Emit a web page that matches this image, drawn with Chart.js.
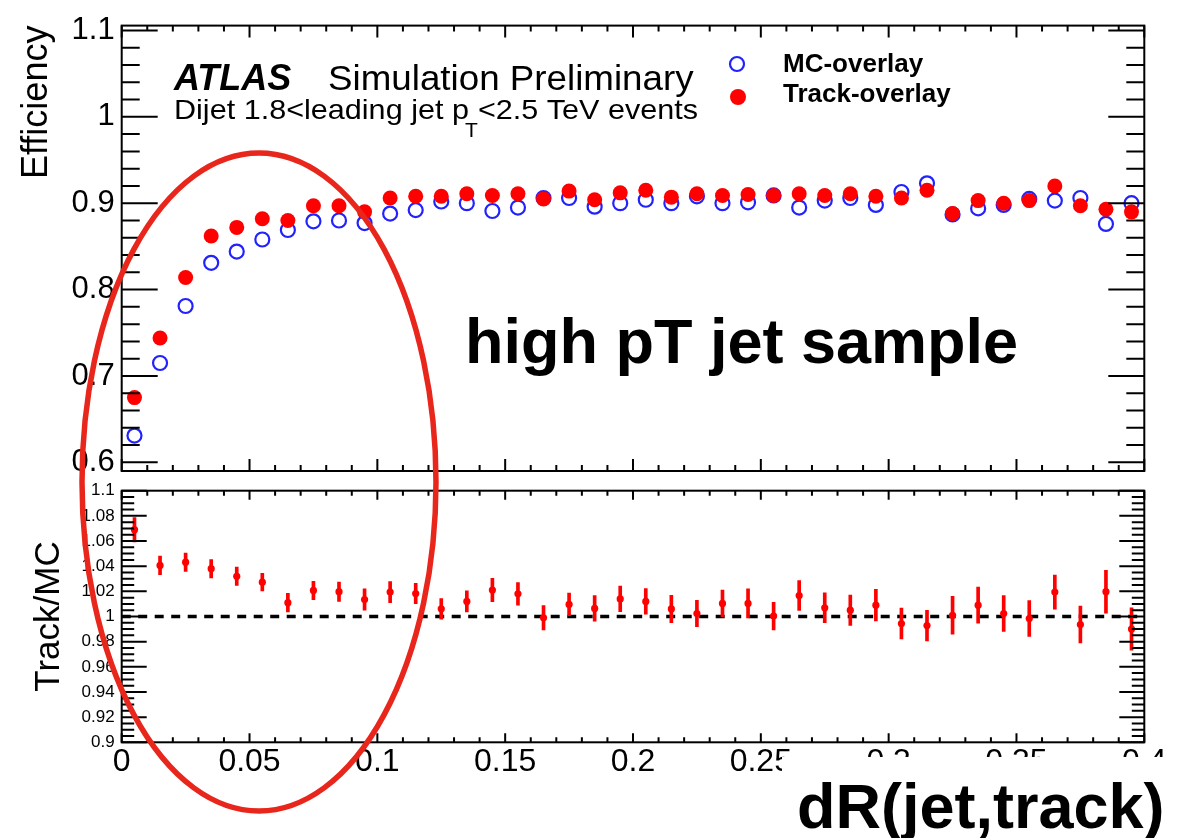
<!DOCTYPE html>
<html>
<head>
<meta charset="utf-8">
<title>Track reconstruction efficiency vs dR(jet,track)</title>
<script src="https://cdn.jsdelivr.net/npm/chart.js@4.4.1/dist/chart.umd.min.js"></script>
<style>
  body { margin: 0; background: #fff; }
  #wrap { position: relative; width: 1198px; height: 838px; }
  #wrap canvas { position: absolute; left: 0; top: 0; }
</style>
</head>
<body>
<div id="wrap">
  <canvas id="effChart" width="1198" height="838"></canvas>
  <canvas id="ratioChart" width="1198" height="838"></canvas>
</div>
<script>
// ==================== DATA ====================
// bin centres of dR(jet,track), bins 0.01 wide
const dRBins = [0.005, 0.015, 0.025, 0.035, 0.045, 0.055, 0.065, 0.075, 0.085, 0.095,
    0.105, 0.115, 0.125, 0.135, 0.145, 0.155, 0.165, 0.175, 0.185, 0.195,
    0.205, 0.215, 0.225, 0.235, 0.245, 0.255, 0.265, 0.275, 0.285, 0.295,
    0.305, 0.315, 0.325, 0.335, 0.345, 0.355, 0.365, 0.375, 0.385, 0.395];

// efficiency, MC-overlay (open blue circles)
const effMC = [0.631, 0.715, 0.781, 0.831, 0.844, 0.858, 0.869, 0.879, 0.880, 0.877,
    0.888, 0.892, 0.902, 0.900, 0.891, 0.895, 0.906, 0.906, 0.896, 0.900,
    0.904, 0.900, 0.908, 0.900, 0.901, 0.909, 0.895, 0.903, 0.906, 0.898,
    0.913, 0.923, 0.887, 0.894, 0.898, 0.905, 0.903, 0.906, 0.876, 0.900];

// efficiency, Track-overlay (filled red circles)
const effTrack = [0.675, 0.744, 0.814, 0.862, 0.872, 0.882, 0.880, 0.897, 0.897, 0.890,
    0.906, 0.908, 0.908, 0.911, 0.909, 0.911, 0.905, 0.914, 0.904, 0.912,
    0.915, 0.907, 0.911, 0.909, 0.910, 0.909, 0.911, 0.909, 0.911, 0.908,
    0.906, 0.915, 0.888, 0.903, 0.900, 0.903, 0.920, 0.897, 0.893, 0.890];

// ratio Track/MC and its error
const ratioTrackMC = [1.069, 1.0406, 1.0432, 1.038, 1.032, 1.0273, 1.011, 1.0207, 1.0197, 1.0135,
    1.0194, 1.0183, 1.0061, 1.012, 1.021, 1.018, 0.999, 1.0096, 1.0064, 1.014,
    1.012, 1.006, 1.0024, 1.0104, 1.0104, 1.0003, 1.0167, 1.0069, 1.005, 1.009,
    0.9944, 0.9928, 1.001, 1.009, 1.0024, 0.9984, 1.0194, 0.9936, 1.0197, 0.990];
const ratioErr = [0.0097, 0.0074, 0.0073, 0.0073, 0.0072, 0.0070, 0.0074, 0.0073, 0.0077, 0.0084,
    0.0084, 0.0081, 0.0082, 0.0084, 0.0093, 0.0090, 0.0096, 0.0090, 0.0102, 0.0102,
    0.0102, 0.0109, 0.0104, 0.0106, 0.0115, 0.0110, 0.0119, 0.0119, 0.0121, 0.0126,
    0.0123, 0.0122, 0.0150, 0.0143, 0.0143, 0.0142, 0.0135, 0.0146, 0.0170, 0.0168];

// tick labels
const xTickVals = [0, 0.05, 0.1, 0.15, 0.2, 0.25, 0.3, 0.35, 0.4];
const effTickVals = [0.6, 0.7, 0.8, 0.9, 1, 1.1];
const ratioTickVals = [0.9, 0.92, 0.94, 0.96, 0.98, 1, 1.02, 1.04, 1.06, 1.08, 1.1];

const FONT = "'Liberation Sans', Arial, Helvetica, sans-serif";
const BLUE = '#2222ff';
const RED = '#ff0000';

// ==================== PLUGINS ====================
// ROOT-style frame with inward ticks on all four sides
const rootFrame = {
    id: 'rootFrame',
    afterDatasetsDraw(chart, args, opts) {
        const {ctx, chartArea: a, scales: {x, y}} = chart;
        ctx.save();
        ctx.strokeStyle = '#000';
        ctx.lineWidth = 2;
        ctx.beginPath();
        const isMajor = (v, step) => Math.abs(v / step - Math.round(v / step)) < 1e-6;
        for (let v = Math.ceil(x.min / opts.xMinor - 1e-6) * opts.xMinor; v <= x.max + 1e-9; v += opts.xMinor) {
            const px = x.getPixelForValue(v);
            const len = isMajor(v, opts.xMajor) ? opts.xMajLen : opts.xMinLen;
            ctx.moveTo(px, a.bottom); ctx.lineTo(px, a.bottom - len);
            ctx.moveTo(px, a.top); ctx.lineTo(px, a.top + len);
        }
        for (let k = Math.ceil(y.min / opts.yMinor - 1e-6); k * opts.yMinor <= y.max + 1e-9; k++) {
            const v = k * opts.yMinor;
            const py = y.getPixelForValue(v);
            const len = isMajor(v, opts.yMajor) ? opts.yMajLen : opts.yMinLen;
            ctx.moveTo(a.left, py); ctx.lineTo(a.left + len, py);
            ctx.moveTo(a.right, py); ctx.lineTo(a.right - len, py);
        }
        ctx.stroke();
        ctx.strokeRect(a.left, a.top, a.right - a.left, a.bottom - a.top);
        ctx.restore();
    }
};

function stretchText(ctx, text, x, y, font, sx) {
    ctx.save();
    ctx.font = font;
    const w = ctx.measureText(text).width * sx;
    ctx.translate(x, y);
    ctx.scale(sx, 1);
    ctx.fillText(text, 0, 0);
    ctx.restore();
    return w;
}

// ATLAS label + legend of the upper pad
const atlasLabels = {
    id: 'atlasLabels',
    afterDraw(chart) {
        const ctx = chart.ctx;
        ctx.save();
        ctx.fillStyle = '#000';
        ctx.textBaseline = 'alphabetic';
        stretchText(ctx, 'ATLAS', 174, 90, `italic bold 36px ${FONT}`, 1);
        stretchText(ctx, 'Simulation Preliminary', 328, 90, `35px ${FONT}`, 1.05);
        const x0 = 174;
        const w = stretchText(ctx, 'Dijet 1.8<leading jet p', x0, 119, `28px ${FONT}`, 1.092);
        stretchText(ctx, 'T', x0 + w - 4, 137, `20px ${FONT}`, 1.05);
        stretchText(ctx, '<2.5 TeV events', x0 + w + 9, 119, `28px ${FONT}`, 1.092);

        // legend
        ctx.strokeStyle = BLUE;
        ctx.lineWidth = 2.2;
        ctx.beginPath();
        ctx.arc(737, 64, 7, 0, Math.PI * 2);
        ctx.stroke();
        ctx.fillStyle = RED;
        ctx.beginPath();
        ctx.arc(738, 97, 8, 0, Math.PI * 2);
        ctx.fill();
        ctx.fillStyle = '#000';
        stretchText(ctx, 'MC-overlay', 783, 72, `bold 26px ${FONT}`, 1);
        stretchText(ctx, 'Track-overlay', 783, 102, `bold 26px ${FONT}`, 1);
        ctx.restore();
    }
};

// notes added on top of the plot (ellipse, captions)
const slideNotes = {
    id: 'slideNotes',
    afterDraw(chart) {
        const ctx = chart.ctx;
        ctx.save();
        ctx.strokeStyle = '#e8261b';
        ctx.lineWidth = 5.5;
        ctx.beginPath();
        ctx.ellipse(259, 482, 177, 329, 0, 0, Math.PI * 2);
        ctx.stroke();

        ctx.fillStyle = '#000';
        ctx.textBaseline = 'alphabetic';
        ctx.font = `bold 63px ${FONT}`;
        ctx.fillText('high pT jet sample', 465, 363);

        ctx.fillStyle = '#fff';
        ctx.fillRect(782, 757, 416, 81);
        ctx.fillStyle = '#000';
        ctx.fillText('dR(jet,track)', 797, 828);
        ctx.restore();
    }
};

// ==================== CHARTS ====================
const AREA_LEFT = 121.7;
const AREA_RIGHT_PAD = 1198 - 1144.3;

function fmtTick(v) {
    return String(+Number(v).toFixed(2));
}

function xScale(showLabels) {
    return {
        type: 'linear',
        min: 0,
        max: 0.4,
        offset: false,
        display: showLabels,
        grid: { display: false, drawTicks: false },
        border: { display: false },
        afterBuildTicks: (scale) => { scale.ticks = xTickVals.map(v => ({ value: v })); },
        afterFit: (scale) => { if (showLabels) scale.height = 838 - 742.3; },
        ticks: {
            autoSkip: false,
            maxRotation: 0,
            minRotation: 0,
            padding: 1,
            color: '#000',
            font: { family: FONT, size: 32 },
            callback: fmtTick
        }
    };
}

// upper pad: efficiencies
new Chart(document.getElementById('effChart'), {
    type: 'scatter',
    data: {
        datasets: [{
            label: 'Track-overlay',
            data: effTrack.map((v, i) => ({ x: dRBins[i], y: v })),
            pointRadius: 7.5,
            pointBorderWidth: 0,
            pointBackgroundColor: RED,
            order: 0
        }, {
            label: 'MC-overlay',
            data: effMC.map((v, i) => ({ x: dRBins[i], y: v })),
            pointRadius: 7,
            pointBorderWidth: 2.2,
            pointBorderColor: BLUE,
            pointBackgroundColor: 'rgba(0,0,0,0)',
            order: 1
        }]
    },
    options: {
        responsive: false,
        animation: false,
        events: [],
        layout: { padding: { top: 15, right: AREA_RIGHT_PAD, bottom: 838 - 471, left: 0 } },
        plugins: {
            legend: { display: false },
            tooltip: { enabled: false },
            rootFrame: { xMajor: 0.05, xMinor: 0.01, xMajLen: 12, xMinLen: 6,
                         yMajor: 0.1, yMinor: 0.02, yMajLen: 36, yMinLen: 18 }
        },
        scales: {
            x: xScale(false),
            y: {
                type: 'linear',
                min: 0.59,
                max: 1.1056,
                grid: { display: false, drawTicks: false },
                border: { display: false },
                afterBuildTicks: (scale) => { scale.ticks = effTickVals.map(v => ({ value: v })); },
                afterFit: (scale) => { scale.width = AREA_LEFT; },
                ticks: {
                    autoSkip: false,
                    padding: 7,
                    color: '#000',
                    font: { family: FONT, size: 31 },
                    callback: fmtTick
                },
                title: {
                    display: true,
                    text: 'Efficiency',
                    align: 'end',
                    color: '#000',
                    font: { family: FONT, size: 36 },
                    padding: { top: 15, bottom: 0 }
                }
            }
        }
    },
    plugins: [rootFrame, atlasLabels]
});

// lower pad: ratio Track/MC
new Chart(document.getElementById('ratioChart'), {
    type: 'scatter',
    data: {
        datasets: [{
            type: 'scatter',
            label: 'Track/MC',
            data: ratioTrackMC.map((v, i) => ({ x: dRBins[i], y: v })),
            pointRadius: 3.6,
            pointBorderWidth: 0,
            pointBackgroundColor: RED,
            order: 0
        }, {
            type: 'bar',
            label: 'error',
            data: ratioTrackMC.map((v, i) => ({ x: dRBins[i], y: [v - ratioErr[i], v + ratioErr[i]] })),
            backgroundColor: RED,
            borderWidth: 0,
            barThickness: 3,
            grouped: false,
            order: 1
        }, {
            type: 'line',
            label: 'unity',
            data: [{ x: 0, y: 1 }, { x: 0.4, y: 1 }],
            showLine: true,
            borderColor: '#000',
            borderWidth: 3.5,
            borderDash: [9, 7.5],
            pointRadius: 0,
            order: 2
        }]
    },
    options: {
        responsive: false,
        animation: false,
        events: [],
        layout: { padding: { top: 490.7, right: AREA_RIGHT_PAD, bottom: 0, left: 0 } },
        plugins: {
            legend: { display: false },
            tooltip: { enabled: false },
            rootFrame: { xMajor: 0.05, xMinor: 0.01, xMajLen: 9, xMinLen: 5,
                         yMajor: 0.02, yMinor: 0.005, yMajLen: 25, yMinLen: 12.5 }
        },
        scales: {
            x: xScale(true),
            y: {
                type: 'linear',
                min: 0.9,
                max: 1.1,
                grid: { display: false, drawTicks: false },
                border: { display: false },
                afterBuildTicks: (scale) => { scale.ticks = ratioTickVals.map(v => ({ value: v })); },
                afterFit: (scale) => { scale.width = AREA_LEFT; },
                ticks: {
                    autoSkip: false,
                    padding: 7,
                    color: '#000',
                    font: { family: FONT, size: 17 },
                    callback: fmtTick
                },
                title: {
                    display: true,
                    text: 'Track/MC',
                    align: 'center',
                    color: '#000',
                    font: { family: FONT, size: 35 },
                    padding: { top: 28, bottom: 0 }
                }
            }
        }
    },
    plugins: [rootFrame, slideNotes]
});
</script>
</body>
</html>
